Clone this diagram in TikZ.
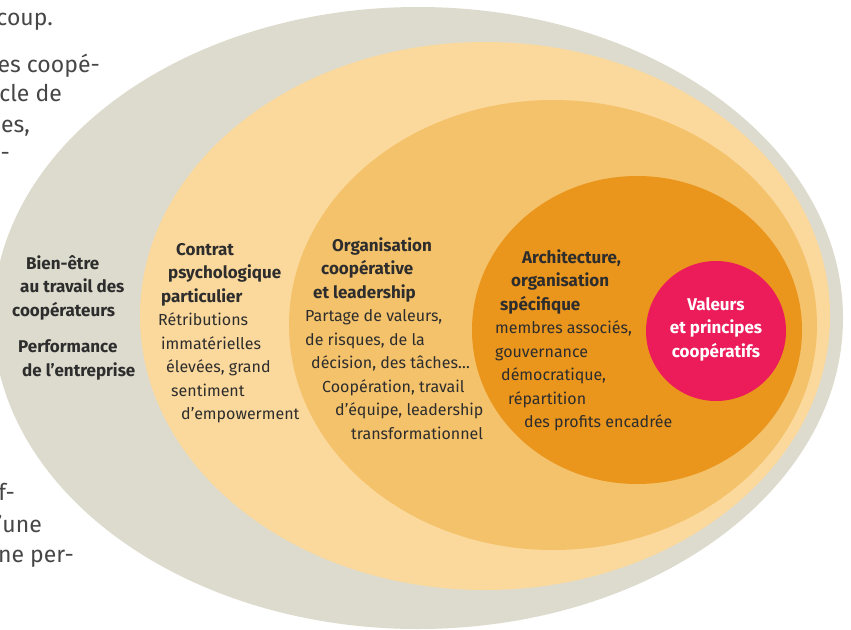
\documentclass[tikz,border=0pt]{standalone}
\usepackage{fontspec}
\setmainfont{Fira Sans}
\definecolor{bandgrey} {RGB}{221,219,205}
\definecolor{ringlight}{RGB}{251,216,155}
\definecolor{ringmid}  {RGB}{244,194,107}
\definecolor{ringdark} {RGB}{234,150, 29}
\definecolor{corepink} {RGB}{236, 27, 90}
\definecolor{labeltext}{RGB}{ 45, 45, 45}
\definecolor{pagetext} {RGB}{ 70, 70, 70}
\newcommand{\ind}[1]{\hspace*{#1pt}}
\newcommand{\hd}[1]{{\fontsize{17}{23.5}\selectfont\bfseries #1}}

\begin{document}
\begin{tikzpicture}[
  % one unit = one pixel of the 851 x 629 page, y grows downwards
  x=1pt,y=-1pt,
  ringlabel/.style={anchor=north west,inner sep=0pt,align=left,text=labeltext,
    yshift=16.45pt,font=\fontsize{16}{23.5}\selectfont},
  corelabel/.style={anchor=north,inner sep=0pt,align=center,text=white,
    yshift=16.45pt,font=\fontsize{17}{23.5}\selectfont\bfseries},
  pagefrag/.style={anchor=base east,inner sep=0pt,text=pagetext,
    font=\fontsize{23}{31}\selectfont}
]
\useasboundingbox (0,0) rectangle (851,629);

% ---- page text cut by the figure -----------------------------------------
\node[pagefrag] (frag1) at (53,25)  {coup.};
\node[pagefrag] (frag2) at (100,72) {es coopé-};
\node[pagefrag] (frag3) at (62,101) {cle de};
\node[pagefrag] (frag4) at (30,132) {es,};
\node[pagefrag] (frag5) at (10,160) {-};
\node[pagefrag] (frag6) at (15,500) {f-};
\node[pagefrag] (frag7) at (42,532) {’une};
\node[pagefrag] (frag8) at (74,562) {ne per-};

% ---- nested rings ----------------------------------------------------------
\fill[bandgrey]  (418,318) ellipse[x radius=425pt,y radius=311pt];
\fill[ringlight] (485,316) ellipse[x radius=345pt,y radius=274pt];
\fill[ringmid]   (553,325) ellipse[x radius=264pt,y radius=225pt];
\fill[ringdark]  (637,330) ellipse[x radius=165pt,y radius=154pt];
\fill[corepink]  (716,331) circle[radius=70pt];

% ---- outer band ------------------------------------------------------------
\node[ringlabel] (outcome) at (12,269)
  {\strut\ind{14}\hd{Bien-être}\\
   \ind{8}\hd{au travail des}\\
   \hd{coopérateurs}\\[13pt]
   \ind{6}\hd{Performance}\\
   \ind{10}\hd{de l’entreprise}};

% ---- psychological contract ------------------------------------------------
\node[ringlabel] (contract) at (158,255)
  {\strut\ind{18}\hd{Contrat}\\
   \ind{10}\hd{psychologique}\\
   \ind{3}\hd{particulier}\\
   Rétributions\\
   \ind{3}immatérielles\\
   \ind{8}élevées, grand\\
   \ind{13}sentiment\\
   \ind{23}d’empowerment};

% ---- organisation and leadership -------------------------------------------
\node[ringlabel] (leadership) at (305,251)
  {\strut\ind{27}\hd{Organisation}\\
   \ind{16}\hd{coopérative}\\
   \ind{8}\hd{et leadership}\\
   Partage de valeurs,\\
   de risques, de la\\
   \ind{6}décision, des tâches…\\
   \ind{17}Coopération, travail\\
   \ind{30}d’équipe, leadership\\
   \ind{46}transformationnel};

% ---- architecture ------------------------------------------------------------
\node[ringlabel] (architecture) at (495,263)
  {\strut\ind{27}\hd{Architecture,}\\
   \ind{16}\hd{organisation}\\
   \ind{5}\hd{spécifique}\\
   membres associés,\\
   gouvernance\\
   \ind{6}démocratique,\\
   \ind{13}répartition\\
   \ind{29}des profits encadrée};

% ---- core ------------------------------------------------------------------
\node[corelabel] (values) at (716,310)
  {\strut Valeurs\\ et principes\\ coopératifs};

\end{tikzpicture}
\end{document}
